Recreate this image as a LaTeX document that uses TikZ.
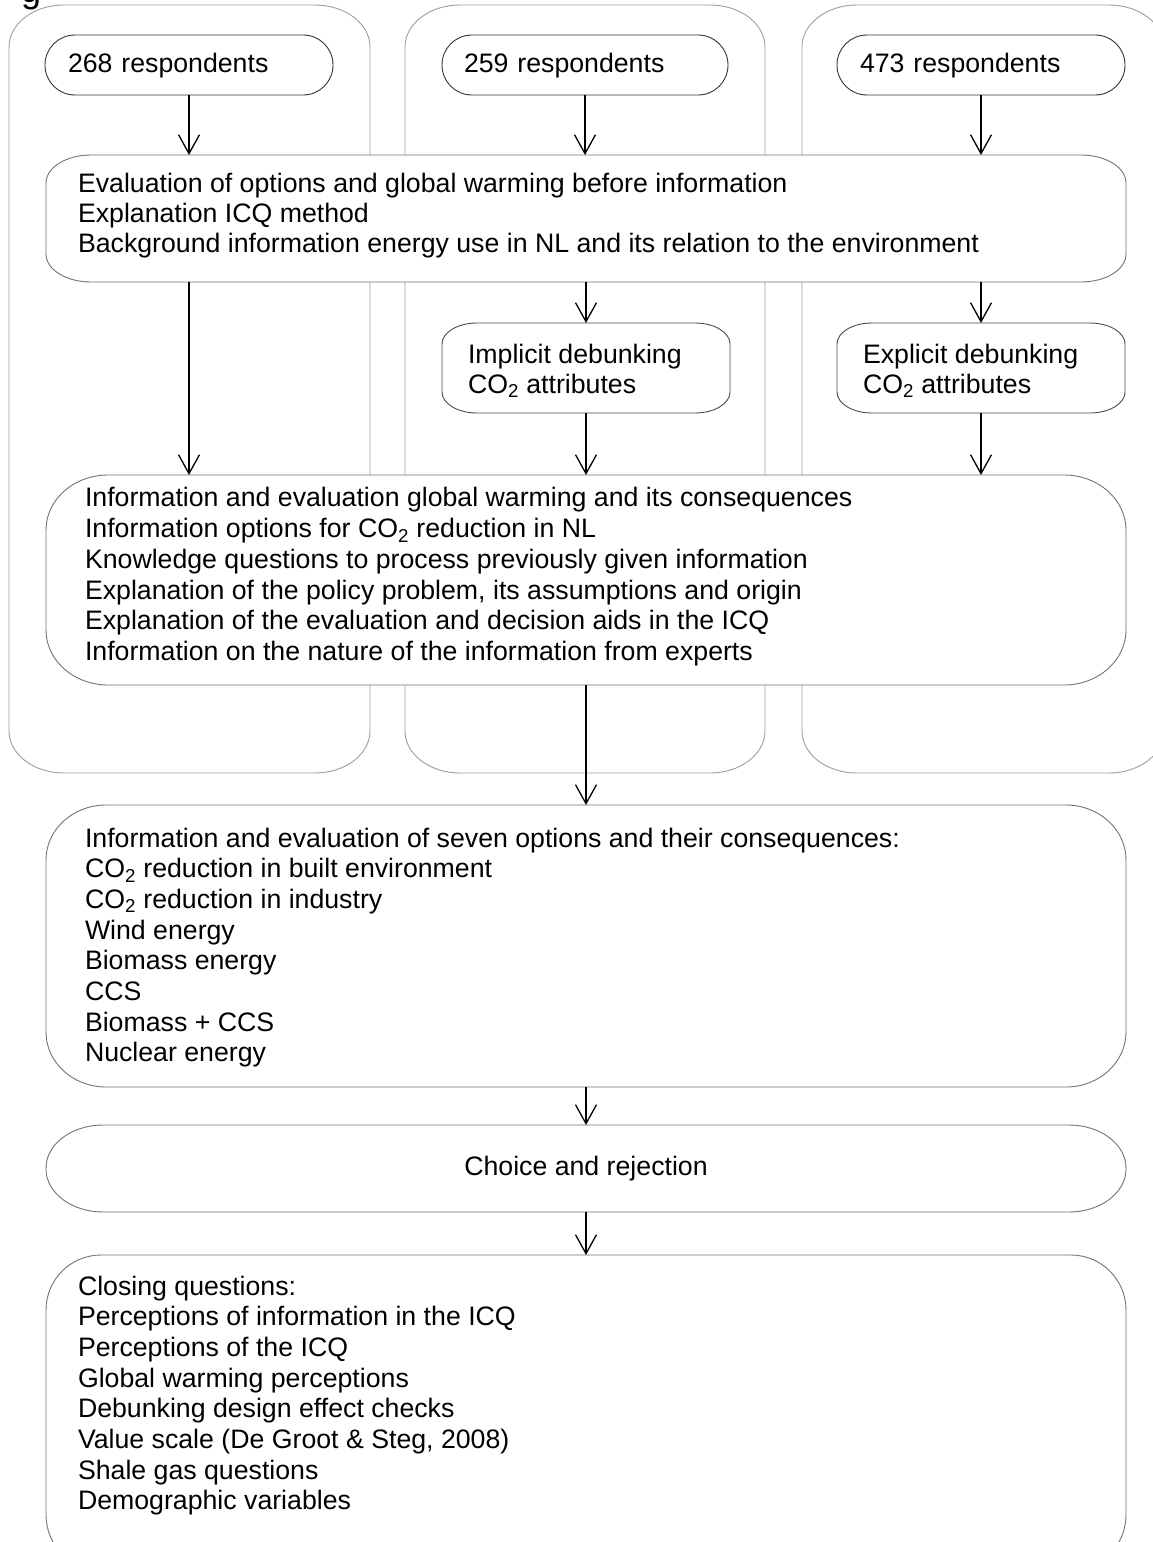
\documentclass[tikz,border=0pt]{standalone}
\usepackage{fontspec}
\setmainfont{Liberation Sans}
\usetikzlibrary{arrows.meta}
% elliptical-corner rounded rectangle around a node: name, rx, ry, style
\newcommand\ebox[4]{%
  \draw[#4] ([xshift=#2]#1.north west) -- ([xshift=-#2]#1.north east)
    arc[start angle=90,end angle=0,x radius=#2,y radius=#3]
    -- ([yshift=#3]#1.south east)
    arc[start angle=0,end angle=-90,x radius=#2,y radius=#3]
    -- ([xshift=#2]#1.south west)
    arc[start angle=270,end angle=180,x radius=#2,y radius=#3]
    -- ([yshift=-#3]#1.north west)
    arc[start angle=180,end angle=90,x radius=#2,y radius=#3]
    -- cycle;}
\begin{document}
\begin{tikzpicture}[x=1pt,y=-1pt,
  lane/.style={draw=black!38, line width=0.9pt, fill=white},
  bigbox/.style={draw=black!55, line width=0.9pt, fill=white},
  smallbox/.style={draw=black!70, line width=0.9pt},
  area/.style 2 args={inner sep=0pt, outer sep=0pt, minimum width=#1, minimum height=#2},
  pill/.style={draw=black!80, line width=0.9pt, rounded corners=29.9pt,
    minimum width=288pt, minimum height=60pt, inner sep=0pt, outer sep=0pt,
    text width=242pt, align=left, text height=19pt, text depth=5pt,
    font=\fontsize{26.7pt}{31pt}\selectfont},
  txt/.style={inner sep=0pt, outer sep=0pt, anchor=north west, align=left,
    font=\fontsize{26.7pt}{#1}\selectfont},
  txt/.default=30.7pt,
  arr/.style={line width=1.3pt, -{Straight Barb[length=19pt,width=21pt,line width=1.3pt]}}
]
\useasboundingbox (0,0) rectangle (1153,1542);

% cut-off caption fragment
\node[inner sep=0pt, anchor=base west, font=\fontsize{36pt}{36pt}\selectfont] (capg) at (21,2) {g};

% lanes
\node[area={361pt}{768pt}] (colA) at (189.5,389) {};
\node[area={360pt}{768pt}] (colB) at (585,389) {};
\node[area={362pt}{768pt}] (colC) at (983,389) {};
\ebox{colA}{55pt}{42pt}{lane}
\ebox{colB}{55pt}{42pt}{lane}
\ebox{colC}{55pt}{42pt}{lane}

% respondent groups
\node[pill] (pA) at (189,65) {268 respondents};
\node[pill, minimum width=286pt] (pB) at (585,65) {259 respondents};
\node[pill] (pC) at (981,65) {473 respondents};

% evaluation box
\node[area={1080pt}{127pt}] (ev) at (586,218.5) {};
\ebox{ev}{45pt}{28pt}{bigbox}
\node[txt=30pt] (evt) at (78,171.5) {\strut Evaluation of options and global warming before information\\
\strut Explanation ICQ method\\
\strut Background information energy use in NL and its relation to the environment};

% debunking boxes
\node[area={288pt}{90pt}] (imp) at (586,368) {};
\ebox{imp}{35pt}{21pt}{smallbox}
\node[txt=30pt] (impt) at (468,342) {\strut Implicit debunking\\ \strut CO\textsubscript{2} attributes};
\node[area={288pt}{90pt}] (exp) at (981,368) {};
\ebox{exp}{35pt}{21pt}{smallbox}
\node[txt=30pt] (expt) at (863,342) {\strut Explicit debunking\\ \strut CO\textsubscript{2} attributes};

% information box
\node[area={1080pt}{210pt}] (info) at (586,580) {};
\ebox{info}{62pt}{55pt}{bigbox}
\node[txt] (infot) at (85,485.5) {\strut Information and evaluation global warming and its consequences\\
\strut Information options for CO\textsubscript{2} reduction in NL\\
\strut Knowledge questions to process previously given information\\
\strut Explanation of the policy problem, its assumptions and origin\\
\strut Explanation of the evaluation and decision aids in the ICQ\\
\strut Information on the nature of the information from experts};

% seven options box
\node[area={1080pt}{282pt}] (opts) at (586,946) {};
\ebox{opts}{60pt}{55pt}{bigbox}
\node[txt] (optst) at (85,825.5) {\strut Information and evaluation of seven options and their consequences:\\
\strut CO\textsubscript{2} reduction in built environment\\
\strut CO\textsubscript{2} reduction in industry\\
\strut Wind energy\\
\strut Biomass energy\\
\strut CCS\\
\strut Biomass + CCS\\
\strut Nuclear energy};

% choice box
\node[area={1080pt}{87pt}] (choice) at (586,1168.5) {};
\ebox{choice}{57pt}{43pt}{bigbox}
\node[inner sep=0pt, font=\fontsize{26.7pt}{31pt}\selectfont] (choicet) at (choice.center) {Choice and rejection};

% closing box
\node[area={1080pt}{315pt}] (close) at (586,1412.5) {};
\ebox{close}{55pt}{55pt}{bigbox}
\node[txt] (closet) at (78,1273.5) {\strut Closing questions:\\
\strut Perceptions of information in the ICQ\\
\strut Perceptions of the ICQ\\
\strut Global warming perceptions\\
\strut Debunking design effect checks\\
\strut Value scale (De Groot \& Steg, 2008)\\
\strut Shale gas questions\\
\strut Demographic variables};

% arrows
\draw[arr] (pA.south) -- (pA.south |- ev.north);
\draw[arr] (pB.south) -- (pB.south |- ev.north);
\draw[arr] (pC.south) -- (pC.south |- ev.north);
\draw[arr] (pA.south |- ev.south) -- (pA.south |- info.north);
\draw[arr] (imp.north |- ev.south) -- (imp.north);
\draw[arr] (exp.north |- ev.south) -- (exp.north);
\draw[arr] (imp.south) -- (imp.south |- info.north);
\draw[arr] (exp.south) -- (exp.south |- info.north);
\draw[arr] (imp.south |- info.south) -- (imp.south |- opts.north);
\draw[arr] (opts.south -| imp.south) -- (choice.north -| imp.south);
\draw[arr] (choice.south -| imp.south) -- (close.north -| imp.south);
\end{tikzpicture}
\end{document}
